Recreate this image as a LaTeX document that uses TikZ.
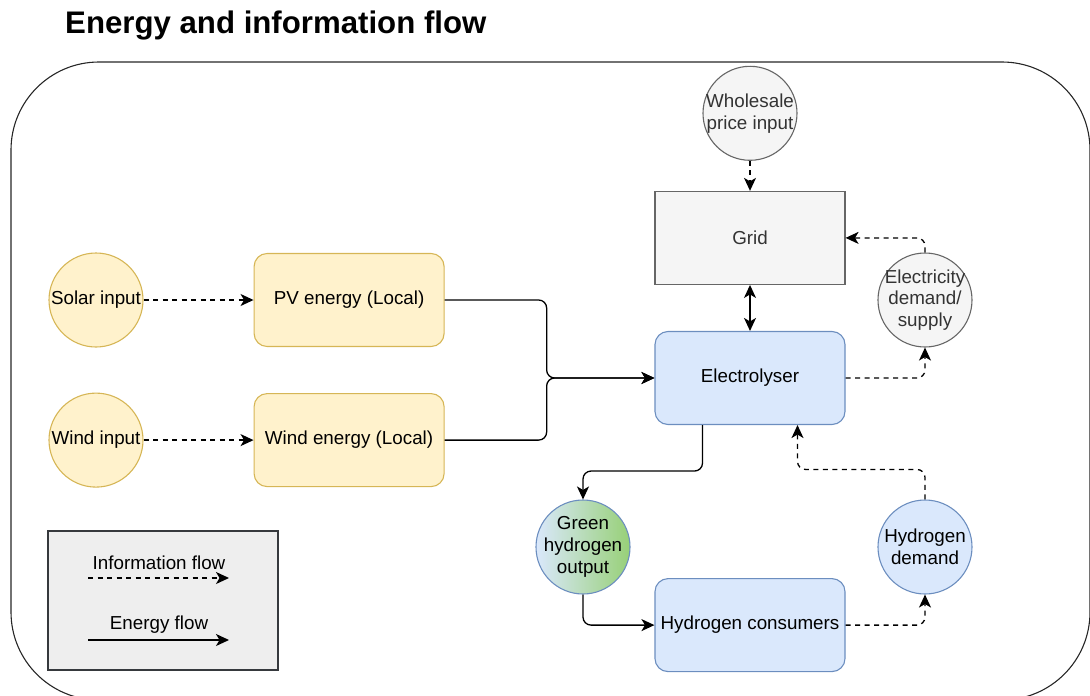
\documentclass[tikz,border=0pt]{standalone}
\usepackage{fontspec}
\setmainfont{Liberation Sans}
\usepackage{xcolor}
\usepackage{tikz}
\usetikzlibrary{arrows.meta,positioning,calc}
\definecolor{ylwfill}{HTML}{FFF2CC}
\definecolor{ylwline}{HTML}{D6B656}
\definecolor{blufill}{HTML}{DAE8FC}
\definecolor{bluline}{HTML}{6C8EBF}
\definecolor{gryfill}{HTML}{F5F5F5}
\definecolor{gryline}{HTML}{666666}
\definecolor{grytext}{HTML}{333333}
\definecolor{grnfill}{HTML}{97D077}
\definecolor{legfill}{HTML}{EEEEEE}
\definecolor{legline}{HTML}{36393D}

\begin{document}
\begin{tikzpicture}[x=1pt, y=-1pt, node distance=46pt and 110pt, every node/.style={font=\fontsize{18.8}{21.8}\selectfont, align=center, inner sep=0pt}, box/.style={draw,rounded corners=13pt,line width=1.1pt,minimum width=190pt,minimum height=93pt}, circ/.style={circle,draw,line width=1.1pt,minimum size=94pt,inner sep=-8pt}, ylw/.style={fill=ylwfill,draw=ylwline}, blu/.style={fill=blufill,draw=bluline}, gry/.style={fill=gryfill,draw=gryline,text=grytext}, >={Stealth[length=13pt,width=12pt,inset=3.5pt]}, nrg/.style={->,line width=1.3pt,rounded corners=8pt}, info/.style={nrg,dash pattern=on 5pt off 4.5pt}]
\useasboundingbox (0,0) rectangle (1090,696);
\clip (0,0) rectangle (1090,696);
\node[anchor=base west,font=\fontsize{31.2}{36}\selectfont\bfseries] (title) at (65,34) {Energy and information flow};
\draw[line width=1.1pt,black!85,rounded corners=88pt] (11,62) rectangle (1090,700);
% sources
\node[circ,ylw] (solar) at (96,300) {Solar input};
\node[box,ylw,right=110pt of solar] (pv) {PV energy (Local)};
\node[circ,ylw,below=45pt of solar] (wind) {Wind input};
\node[box,ylw,right=110pt of wind] (wen) {Wind energy (Local)};
% grid side
\node[box,blu] (elec) at (750,378) {Electrolyser};
\node[box,gry,sharp corners,above=46pt of elec] (grid) {Grid};
\node[circ,gry,above=30pt of grid] (whole) {Wholesale\\price input};
\node[circ,gry] (edem) at (925,300) {Electricity\\demand/\\supply};
% hydrogen side
\node[box,blu,below=153pt of elec] (cons) {Hydrogen consumers};
\node[circ,draw=bluline,left color=blufill,right color=grnfill] (green) at (583,547) {Green\\hydrogen\\output};
\node[circ,blu] (hdem) at (925,547) {Hydrogen\\demand};
% legend
\node[draw=legline,fill=legfill,line width=1.1pt,minimum width=230pt,minimum height=139pt] (legend) at (163,600.5) {};
\node (linfo) at (159,563) {Information flow};
\node (lnrg) at (159,625) {Energy flow};
\coordinate (ia) at (88,578);
\coordinate (ib) at (229,578);
\coordinate (ea) at (88,640);
\coordinate (eb) at (229,640);
\draw[info] (solar)--(pv);
\draw[info] (wind)--(wen);
\draw[nrg] (pv.east)--++(102,0)|-(elec.west);
\draw[nrg] (wen.east)--++(102,0)|-(elec.west);
\draw[info] (whole)--(grid);
\draw[nrg,<->] (grid)--(elec);
\draw[info] (elec.east)-|(edem.south);
\draw[info] (edem.north)|-(grid.east);
\draw[nrg] ($(elec.south)+(-47.5,0)$)--++(0,46)-|(green.north);
\draw[nrg] (green.south)|-(cons.west);
\draw[info] (cons.east)-|(hdem.south);
\draw[info] (hdem.north)--++(0,-30)-|($(elec.south)+(47.5,0)$);
\draw[info] (ia)--(ib);
\draw[nrg] (ea)--(eb);
\end{tikzpicture}
\end{document}
